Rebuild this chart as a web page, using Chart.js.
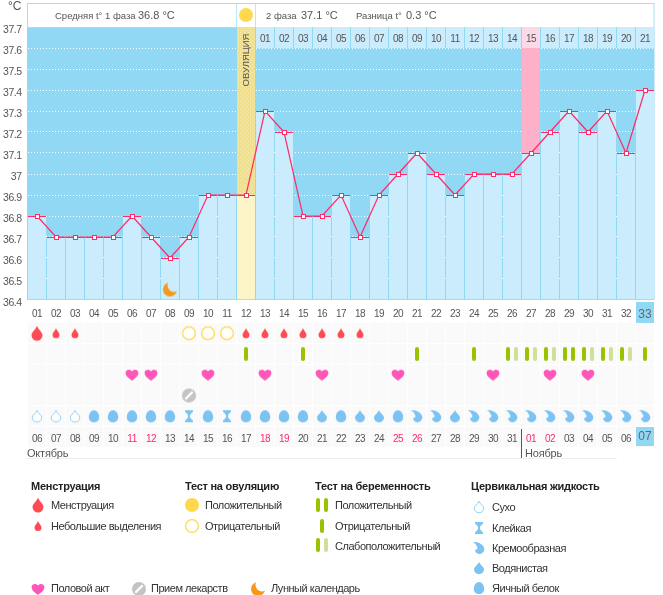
<!DOCTYPE html>
<html><head><meta charset="utf-8">
<style>html,body{margin:0;padding:0;background:#fff}canvas{display:block}</style>
<script src="https://cdn.jsdelivr.net/npm/chart.js@4"></script>
</head><body>
<canvas id="c" width="663" height="595"></canvas>
<script>
const cycleDays = ['01','02','03','04','05','06','07','08','09','10','11','12','13','14','15','16','17','18','19','20','21','22','23','24','25','26','27','28','29','30','31','32','33'];
const calendarDates = ['06','07','08','09','10','11','12','13','14','15','16','17','18','19','20','21','22','23','24','25','26','27','28','29','30','31','01','02','03','04','05','06','07'];
const redDates = [5,6,12,13,19,20,26,27];
const temperatures = [36.8,36.7,36.7,36.7,36.7,36.8,36.7,36.6,36.7,36.9,36.9,36.9,37.3,37.2,36.8,36.8,36.9,36.7,36.9,37.0,37.1,37.0,36.9,37.0,37.0,37.0,37.1,37.2,37.3,37.2,37.3,37.1,37.4];
const tickValues = [36.4,36.5,36.6,36.7,36.8,36.9,37,37.1,37.2,37.3,37.4,37.5,37.6,37.7];
const tickLabels = ['36.4','36.5','36.6','36.7','36.8','36.9','37','37.1','37.2','37.3','37.4','37.5','37.6','37.7'];
const phase2Labels = ['01','02','03','04','05','06','07','08','09','10','11','12','13','14','15','16','17','18','19','20','21'];
const ovulationDay = '12';
const highlightDay = '27';
const menstruationDays = ['01'];
const spottingDays = ['02','03','12','13','14','15','16','17','18'];
const ovulationNegDays = ['09','10','11'];
const pregSingleDays = ['12','15','21','24','33'];
const pregWeakDays = ['26','27','28','30','31','32'];
const pregPosDays = ['29'];
const sexDays = ['06','07','10','13','16','20','25','28','30'];
const medsDays = ['09'];
const moonDays = ['08'];
const dryDays = ['01','02','03'];
const eggDays = ['04','05','06','07','08','10','12','13','14','15','17','20'];
const stickyDays = ['09','11'];
const wateryDays = ['16','18','19','23'];
const creamDays = ['21','22','24','25','26','27','28','29','30','31','32','33'];

const TICK_FONT='10px "Liberation Sans"', TXT='11px "Liberation Sans"', SM='9.5px "Liberation Sans"', BOLD='bold 11px "Liberation Sans"', BIG='12px "Liberation Sans"';
const SKY='#90d8f4', LIGHT='#caecfd', RED='#ff2a68';
const RED2='#ff4b55', BLUE='#7cc3f2', GREEN='#99c200', PALE='#d0e09a';

function icon(w,h,fn){const c=document.createElement('canvas');c.width=w;c.height=h;fn(c.getContext('2d'));return c;}
function dropPath(x,cx,cy,w,h){
  const t=cy-h/2,b=cy+h/2,r=w/2;
  x.beginPath();x.moveTo(cx,t);
  x.bezierCurveTo(cx+r*0.25,t+h*0.28,cx+r,t+h*0.42,cx+r,b-r);
  x.arc(cx,b-r,r,0,Math.PI);
  x.bezierCurveTo(cx-r,t+h*0.42,cx-r*0.25,t+h*0.28,cx,t);x.closePath();
}
const I={
 big:icon(20,20,x=>{dropPath(x,10,10,11,15);x.fillStyle=RED2;x.fill();}),
 small:icon(20,20,x=>{dropPath(x,10,10,7,10);x.fillStyle=RED2;x.fill();}),
 sun:icon(20,20,x=>{x.fillStyle='#ffd84d';x.beginPath();x.arc(10,10,7,0,7);x.fill();}),
 ring:icon(20,20,x=>{x.strokeStyle='#ffd84d';x.lineWidth=1.2;x.fillStyle='#fff';x.beginPath();x.arc(10,10,6.4,0,7);x.fill();x.stroke();}),
 heart:icon(20,20,x=>{x.fillStyle='#ff57b9';x.beginPath();x.moveTo(10,16);x.bezierCurveTo(7,13.5,3.6,11.5,3.6,8);x.bezierCurveTo(3.6,4.6,8.4,3.8,10,6.6);x.bezierCurveTo(11.6,3.8,16.4,4.6,16.4,8);x.bezierCurveTo(16.4,11.5,13,13.5,10,16);x.fill();}),
 meds:icon(20,20,x=>{x.fillStyle='#c4c4c4';x.beginPath();x.arc(10,10,7,0,7);x.fill();x.strokeStyle='#fff';x.lineWidth=2.4;x.lineCap='round';x.beginPath();x.moveTo(7,13);x.lineTo(13,7);x.stroke();}),
 moon:icon(20,20,x=>{x.fillStyle='#f5981c';x.beginPath();x.arc(10,10,7,0,7);x.fill();x.globalCompositeOperation='destination-out';x.beginPath();x.arc(14,6,6.5,0,7);x.fill();}),
 single:icon(20,20,x=>{x.fillStyle=GREEN;x.beginPath();x.roundRect(8,3,4,14,2);x.fill();}),
 pos:icon(20,20,x=>{x.fillStyle=GREEN;x.beginPath();x.roundRect(4,3,4,14,2);x.roundRect(12,3,4,14,2);x.fill();}),
 weak:icon(20,20,x=>{x.fillStyle=GREEN;x.beginPath();x.roundRect(4,3,4,14,2);x.fill();x.fillStyle=PALE;x.beginPath();x.roundRect(12,3,4,14,2);x.fill();}),
 dry:icon(20,20,x=>{dropPath(x,10,10,9.6,11.6);x.strokeStyle='#8fd0f7';x.lineWidth=1;x.fillStyle='#fff';x.fill();x.stroke();}),
 egg:icon(20,20,x=>{x.fillStyle=BLUE;x.beginPath();x.moveTo(10,4);x.bezierCurveTo(13.5,4,15.2,8,15.2,11);x.bezierCurveTo(15.2,14,13,16,10,16);x.bezierCurveTo(7,16,4.8,14,4.8,11);x.bezierCurveTo(4.8,8,6.5,4,10,4);x.fill();}),
 sticky:icon(20,20,x=>{x.fillStyle=BLUE;x.beginPath();x.moveTo(6,4);x.lineTo(14,4);x.lineTo(14,5.5);x.quadraticCurveTo(10.8,8,10.8,10);x.quadraticCurveTo(10.8,12,14,14.5);x.lineTo(14,16);x.lineTo(6,16);x.lineTo(6,14.5);x.quadraticCurveTo(9.2,12,9.2,10);x.quadraticCurveTo(9.2,8,6,5.5);x.fill();}),
 watery:icon(20,20,x=>{dropPath(x,10,10,10,12.5);x.fillStyle=BLUE;x.fill();}),
 cream:icon(20,20,x=>{x.fillStyle=BLUE;x.beginPath();x.moveTo(4,4);x.quadraticCurveTo(12,3.5,15,9.5);x.bezierCurveTo(16.3,13,13.5,16,10.5,16);x.bezierCurveTo(8,16,6,14.2,6,12);x.quadraticCurveTo(8.6,11.8,8.6,9.5);x.quadraticCurveTo(7.6,6,4,4);x.fill();}),
 marker:icon(6,6,x=>{x.fillStyle=RED;x.fillRect(1,1,5,5);x.fillStyle='#fff';x.fillRect(2,2,3,3);})
};
const dotPattern=(base,dot)=>{const c=icon(4,4,x=>{x.fillStyle=base;x.fillRect(0,0,4,4);x.fillStyle=dot;x.fillRect(0,0,1,1);x.fillRect(2,2,1,1);});return c.getContext('2d').createPattern(c,'repeat');};

const R={cycle:0,menstr:1,preg:2,sex:3,meds:4,fluid:5,date:6,month:6.76};
function marks(days,y,style,axis){return{type:'line',showLine:false,data:days.map(d=>({x:d,y})),yAxisID:axis||'yR',pointStyle:I[style],pointRadius:10,pointHoverRadius:10,order:0,clip:false,parsing:{xAxisKey:'x',yAxisKey:'y'}};}
function rowFloat(days,lo,hi,color){return{type:'bar',grouped:false,data:days.map(d=>({x:d,y:[lo,hi]})),yAxisID:'yT',backgroundColor:color,borderWidth:0,barPercentage:1,categoryPercentage:18/19,order:6};}

const SPACING={[TICK_FONT]:'-0.5px',[TXT]:'-0.47px',[BOLD]:'-0.25px'};
const tx=(c,s,x,y,font,color,align,spacing)=>{c.font=font;c.letterSpacing=spacing||SPACING[font]||'0px';c.fillStyle=color;c.textAlign=align||'left';c.textBaseline='middle';c.fillText(s,x,y);};

const decor={id:'decor',
 beforeDraw(ch){const c=ch.ctx,S=ch.scales,X=S.x,T=S.yT,RR=S.yR,A=ch.chartArea;
  c.save();c.fillStyle=SKY;c.fillRect(27,T.top,A.right-27,T.bottom-T.top);
  c.strokeStyle='#a4dff6';c.lineWidth=1;c.fillStyle='#fff';c.fillRect(27,3,A.right-27,24);c.strokeRect(27.5,3.5,A.right-28,24);
  const ox=X.getPixelForValue(ovulationDay);c.fillStyle='#bde6f8';c.fillRect(ox-10,4,1,23);c.fillRect(ox+9,4,1,23);
  c.fillStyle='#fafafa';
  [R.menstr,R.preg,R.sex,R.meds,R.fluid,R.date].forEach(r=>{const y=RR.getPixelForValue(r);
    cycleDays.forEach(d=>{const cx=X.getPixelForValue(d);c.fillRect(cx-9,Math.round(y)-10,18,20);});});
  c.fillStyle='#eeeeee';c.fillRect(27,458,590,1);
  c.restore();
  c.letterSpacing='-0.5px';},
 afterDatasetsDraw(ch){const c=ch.ctx,S=ch.scales,X=S.x,T=S.yT,RR=S.yR;
  c.save();
  tx(c,'Средняя t° 1 фаза',55,16,SM,'#555');
  tx(c,'36.8 °C',138,16,TXT,'#555','left','0px');
  tx(c,'2 фаза',266,16,SM,'#555');
  tx(c,'37.1 °C',301,16,TXT,'#555','left','0px');
  tx(c,'Разница t°',356,16,SM,'#555');
  tx(c,'0.3 °C',406,16,TXT,'#555','left','0px');
  tx(c,'°C',8,7,BIG,'#555');
  c.save();c.translate(X.getPixelForValue(ovulationDay),60);c.rotate(-Math.PI/2);
  tx(c,'ОВУЛЯЦИЯ',0,0,'9.5px "Liberation Sans"','#555','center');c.restore();
  phase2Labels.forEach((s,i)=>tx(c,s,X.getPixelForValue(cycleDays[12+i]),T.getPixelForValue(37.65)+2,TICK_FONT,'#555','center'));
  const last=cycleDays.length-1, lx=X.getPixelForValue(cycleDays[last]);
  c.fillStyle=SKY;c.fillRect(lx-9,302,18,21);c.fillRect(lx-9,427,18,19);
  cycleDays.forEach((s,i)=>tx(c,s,X.getPixelForValue(s),RR.getPixelForValue(R.cycle)+2,i===last?BIG:TICK_FONT,i===last?'#666':'#555','center'));
  calendarDates.forEach((s,i)=>tx(c,s,X.getPixelForValue(cycleDays[i]),RR.getPixelForValue(R.date)+(i===last?0:2),i===last?BIG:TICK_FONT,redDates.includes(i)?RED:(i===last?'#666':'#555'),'center'));
  const my=RR.getPixelForValue(R.month)+1;
  tx(c,'Октябрь',27,my,TXT,'#555','left','-0.2px');
  const sepX=X.getPixelForValue(cycleDays[26])-10;
  c.fillStyle='#555';c.fillRect(sepX,429,1,29);
  tx(c,'Ноябрь',sepX+4,my,TXT,'#555','left','-0.2px');
  c.restore();},
 afterDraw(ch){const c=ch.ctx;c.save();
  const ic=(n,x,y)=>c.drawImage(I[n],x-10,y-10);
  const D='#333';
  [['Менструация',31],['Тест на овуляцию',185],['Тест на беременность',315],['Цервикальная жидкость',471]].forEach(h=>tx(c,h[0],h[1],487,BOLD,'#222'));
  ic('big',38,505);tx(c,'Менструация',51,506,TXT,D);
  ic('small',38,526);tx(c,'Небольшие выделения',51,527,TXT,D);
  ic('sun',192,505);tx(c,'Положительный',205,506,TXT,D);
  ic('ring',192,526);tx(c,'Отрицательный',205,527,TXT,D);
  ic('pos',322,505);tx(c,'Положительный',335,506,TXT,D);
  ic('single',322,526);tx(c,'Отрицательный',335,527,TXT,D);
  ic('weak',322,545);tx(c,'Слабоположительный',335,547,TXT,D);
  ic('dry',479,507);tx(c,'Сухо',492,508,TXT,D);
  ic('sticky',479,528);tx(c,'Клейкая',492,529,TXT,D);
  ic('cream',479,548);tx(c,'Кремообразная',492,549,TXT,D);
  ic('watery',479,568);tx(c,'Водянистая',492,569,TXT,D);
  ic('egg',479,588);tx(c,'Яичный белок',492,589,TXT,D);
  ic('heart',38,589);tx(c,'Половой акт',51,589,TXT,D);
  ic('meds',139,589);tx(c,'Прием лекарств',151,589,TXT,D);
  ic('moon',258,589);tx(c,'Лунный календарь',271,589,TXT,D);
  c.restore();}
};

const W27=a=>{a.width=27.5;a.paddingTop=0;a.paddingBottom=0;a.paddingLeft=0;a.paddingRight=0;};
new Chart(document.getElementById('c'),{
 type:'bar',
 data:{labels:cycleDays,datasets:[
  {type:'line',data:temperatures,yAxisID:'yT',borderColor:RED,borderWidth:1.2,tension:0,pointStyle:I.marker,pointRadius:6,pointHoverRadius:6,order:1,clip:false},
  marks(menstruationDays,R.menstr,'big'),
  marks(spottingDays,R.menstr,'small'),
  marks(ovulationNegDays,R.menstr,'ring'),
  marks(pregSingleDays,R.preg,'single'),
  marks(pregWeakDays,R.preg,'weak'),
  marks(pregPosDays,R.preg,'pos'),
  marks(sexDays,R.sex,'heart'),
  marks(medsDays,R.meds,'meds'),
  marks(dryDays,R.fluid,'dry'),
  marks(eggDays,R.fluid,'egg'),
  marks(stickyDays,R.fluid,'sticky'),
  marks(wateryDays,R.fluid,'watery'),
  marks(creamDays,R.fluid,'cream'),
  marks(moonDays,36.45,'moon','yT'),
  marks([ovulationDay],0.5,'sun','yH'),
  {type:'bar',grouped:false,data:temperatures,yAxisID:'yT',base:36.4,
   backgroundColor:cycleDays.map(d=>d===ovulationDay?'#fdf5c8':LIGHT),
   borderColor:RED,borderWidth:{top:1,left:0,right:0,bottom:0},borderSkipped:false,
   barPercentage:1,categoryPercentage:18/19,order:5},
  rowFloat([ovulationDay],36.9,37.7,dotPattern('#f3e085','#f9edb0')),
  rowFloat([highlightDay],37.1,37.6,dotPattern('#ffaec8','#ffb8cf')),
  rowFloat(cycleDays.slice(12).filter(d=>d!==highlightDay),37.6,37.7,LIGHT),
  rowFloat([highlightDay],37.6,37.7,'#fcd9e6')
 ]},
 options:{responsive:false,animation:false,devicePixelRatio:1,
  layout:{autoPadding:false,padding:{left:0,top:3,right:8.5,bottom:135}},
  plugins:{legend:{display:false},tooltip:{enabled:false}},
  events:[],
  scales:{
   x:{type:'category',display:false,offset:true,grid:{display:false}},
   yH:{type:'linear',position:'left',stack:'v',stackWeight:24,weight:3,min:0,max:1,afterFit:W27,
       ticks:{display:false},grid:{display:false},border:{display:false}},
   yT:{type:'linear',position:'left',stack:'v',stackWeight:273,weight:2,min:36.4,max:37.7,afterFit:W27,
       afterBuildTicks:a=>{a.ticks=tickValues.map(v=>({value:v}));},
       ticks:{autoSkip:false,font:{family:'Liberation Sans',size:10.5},color:'#555',padding:6,labelOffset:3,callback:(v,i)=>tickLabels[i]},
       grid:{color:c=>(c.tick&&(c.tick.value===36.4||c.tick.value===37.7))?'rgba(0,0,0,0)':'#ffffff',drawTicks:false},
       border:{display:false,dash:[1,2]}},
   yR:{type:'linear',position:'left',stack:'v',stackWeight:160,weight:1,min:-0.6,max:7.11,reverse:true,afterFit:W27,
       ticks:{display:false},grid:{display:false},border:{display:false}}
  }},
 plugins:[decor]
});
</script>
</body></html>
